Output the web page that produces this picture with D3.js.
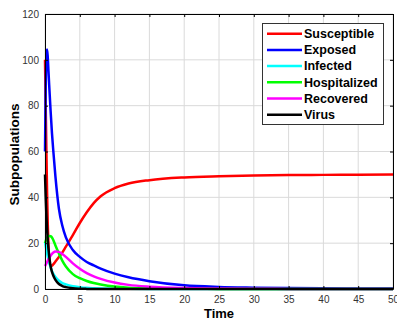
<!DOCTYPE html>
<html>
<head>
<meta charset="utf-8">
<script src="https://cdn.jsdelivr.net/npm/d3@7"></script>
<style>
  body { margin: 0; background: #fff; }
  text { font-family: "Liberation Sans", Arial, sans-serif; }
</style>
</head>
<body>
<div id="chart"></div>
<script>
// time points
const time = [0, 0.1, 0.2, 0.3, 0.4, 0.5, 0.6, 0.8, 1, 1.2, 1.5, 2, 2.5, 3, 4, 5, 6, 7, 8, 10, 12, 15, 20, 25, 30, 35, 40, 45, 50];

const susceptible = [100, 80, 60, 42, 28, 19, 13, 10, 10.2, 10.8, 12, 14, 16, 18.5, 23.5, 28.8, 33.5, 37.5, 40.5, 44, 46, 47.5, 48.7, 49.2, 49.5, 49.7, 49.8, 49.9, 50];
const exposed = [60, 88, 102, 104.5, 101, 95, 89, 78, 68, 60, 49, 35, 27.5, 22.5, 17, 14, 11.8, 10.3, 8.9, 6.7, 5.1, 3.4, 1.6, 0.9, 0.6, 0.4, 0.3, 0.25, 0.2];
const infected = [20.5, 18.8, 17.2, 15.6, 14.1, 12.8, 11.6, 9.5, 7.8, 6.6, 5.2, 3.6, 2.6, 2, 1.2, 0.8, 0.5, 0.35, 0.25, 0.12, 0.06, 0.02, 0, 0, 0, 0, 0, 0, 0];
const hospitalized = [20, 21, 21.8, 22.4, 22.8, 23, 23.1, 23, 22.5, 21.3, 19, 15.5, 12.3, 9.8, 6.5, 4.7, 3.5, 2.6, 2, 1.1, 0.6, 0.3, 0.1, 0.05, 0, 0, 0, 0, 0];
const recovered = [10, 10.6, 11.2, 11.8, 12.4, 13, 13.5, 14.5, 15.3, 15.9, 16.4, 16.2, 15.3, 14, 11.2, 8.8, 6.9, 5.5, 4.4, 2.8, 1.8, 1, 0.4, 0.2, 0.1, 0.05, 0, 0, 0];
const virus = [50, 40, 32, 26, 21, 17.5, 14.5, 10, 7.5, 5.8, 4, 2.2, 1.3, 0.8, 0.3, 0.12, 0.05, 0.02, 0, 0, 0, 0, 0, 0, 0, 0, 0, 0, 0];

const seriesNames = ["Susceptible", "Exposed", "Infected", "Hospitalized", "Recovered", "Virus"];
const seriesValues = [susceptible, exposed, infected, hospitalized, recovered, virus];
const seriesColors = ["#ff0000", "#0000ff", "#00ffff", "#00ff00", "#ff00ff", "#000000"];

const xTicks = [0, 5, 10, 15, 20, 25, 30, 35, 40, 45, 50];
const yTicks = [0, 20, 40, 60, 80, 100, 120];

const width = 397, height = 320;
const margin = {top: 14, right: 4, bottom: 31, left: 45};
const innerW = width - margin.left - margin.right;
const innerH = height - margin.top - margin.bottom;

const svg = d3.select("#chart").append("svg")
    .attr("width", width)
    .attr("height", height);

const g = svg.append("g")
    .attr("transform", `translate(${margin.left},${margin.top})`);

const x = d3.scaleLinear().domain([0, 50]).range([0, innerW]);
const y = d3.scaleLinear().domain([0, 120]).range([innerH, 0]);

// grid
g.append("g").selectAll("line")
    .data(xTicks).enter().append("line")
    .attr("x1", d => x(d)).attr("x2", d => x(d))
    .attr("y1", 0).attr("y2", innerH)
    .attr("stroke", "#dadada").attr("stroke-width", 1);
g.append("g").selectAll("line")
    .data(yTicks).enter().append("line")
    .attr("x1", 0).attr("x2", innerW)
    .attr("y1", d => y(d)).attr("y2", d => y(d))
    .attr("stroke", "#dadada").attr("stroke-width", 1);

// curves
g.append("clipPath").attr("id", "clip")
    .append("rect").attr("x", -2).attr("y", 0).attr("width", innerW + 2).attr("height", innerH + 2);

const line = d3.line()
    .x(d => x(d[0]))
    .y(d => y(d[1]))
    .curve(d3.curveMonotoneX);

g.append("g").attr("clip-path", "url(#clip)")
    .selectAll("path")
    .data(seriesValues).enter().append("path")
    .attr("d", vals => line(time.map((t, i) => [t, vals[i]])))
    .attr("fill", "none")
    .attr("stroke", (d, i) => seriesColors[i])
    .attr("stroke-width", 2.5)
    .attr("stroke-linejoin", "round");

// axes (ticks inward, box on)
function styleAxis(sel) {
    sel.select(".domain").attr("stroke", "#000");
    sel.selectAll(".tick line").attr("stroke", "#000");
    sel.selectAll(".tick text").attr("fill", "#333").style("font-size", "10px")
        .style("font-family", "'Liberation Sans', Arial, sans-serif");
}

g.append("g").attr("transform", `translate(0,${innerH})`)
    .call(d3.axisBottom(x).tickValues(xTicks).tickSize(-3).tickPadding(7).tickSizeOuter(0))
    .call(styleAxis);
g.append("g")
    .call(d3.axisLeft(y).tickValues(yTicks).tickSize(-3).tickPadding(6).tickSizeOuter(0))
    .call(styleAxis);
g.append("g")
    .call(d3.axisTop(x).tickValues(xTicks).tickSize(-3).tickSizeOuter(0).tickFormat(""))
    .call(styleAxis);
g.append("g").attr("transform", `translate(${innerW},0)`)
    .call(d3.axisRight(y).tickValues(yTicks).tickSize(-3).tickSizeOuter(0).tickFormat(""))
    .call(styleAxis);

// axis labels
svg.append("text")
    .attr("x", margin.left + innerW / 2).attr("y", 318)
    .attr("text-anchor", "middle")
    .style("font-size", "13px").style("font-weight", "bold")
    .text("Time");
svg.append("text")
    .attr("transform", `translate(19,${margin.top + innerH / 2 + 3}) rotate(-90)`)
    .attr("text-anchor", "middle")
    .style("font-size", "13.5px").style("font-weight", "bold")
    .text("Subpopulations");

// legend
const legend = svg.append("g").attr("transform", "translate(262,23)");
legend.append("rect")
    .attr("x", 0.5).attr("y", 0.5).attr("width", 121).attr("height", 101)
    .attr("fill", "#fff").attr("stroke", "#333").attr("stroke-width", 1);
const rows = legend.selectAll(".row")
    .data(seriesNames).enter().append("g")
    .attr("transform", (d, i) => `translate(0,${10.7 + i * 16.2})`);
rows.append("line")
    .attr("x1", 5).attr("x2", 40)
    .attr("stroke", (d, i) => seriesColors[i])
    .attr("stroke-width", 2.5);
rows.append("text")
    .attr("x", 42).attr("dy", "0.35em")
    .style("font-size", "12.5px").style("font-weight", "bold")
    .text(d => d);
</script>
</body>
</html>
